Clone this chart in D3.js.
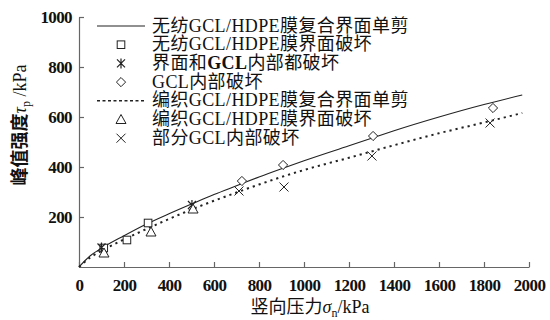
<!DOCTYPE html>
<html>
<head>
<meta charset="utf-8">
<script src="https://cdn.jsdelivr.net/npm/d3@7"></script>
<style>
  body { margin: 0; background: #fff; }
  text { font-family: "Liberation Serif", "Noto Sans CJK SC", serif; fill: #111; }
</style>
</head>
<body>
<div id="chart-area"></div>
<script>
// fitted curves
const curveX = [0, 50, 100, 200, 300, 400, 500, 600, 700, 800, 900, 1000, 1200, 1300, 1400, 1600, 1800, 1970]
const solidY = [0, 45, 75, 125, 172, 213, 252, 290, 325, 360, 393, 425, 485, 515, 545, 600, 650, 688]
const dottedY = [0, 38, 65, 110, 152, 192, 230, 265, 298, 330, 360, 388, 437, 462, 487, 535, 578, 616]

// test points
const squarePts = [[110, 76], [213, 108], [307, 176]]
const starPts = [[100, 78], [502, 248]]
const diamondPts = [[724, 344], [907, 408], [1307, 524], [1840, 636]]
const trianglePts = [[111, 56], [320, 140], [507, 232]]
const crossPts = [[711, 304], [911, 320], [1302, 444], [1827, 576]]

const xTicks = [0, 200, 400, 600, 800, 1000, 1200, 1400, 1600, 1800, 2000]
const yTicks = [200, 400, 600, 800, 1000]

const legendLabels = [
  "无纺GCL/HDPE膜复合界面单剪",
  "无纺GCL/HDPE膜界面破坏",
  "界面和GCL内部都破坏",
  "GCL内部破坏",
  "编织GCL/HDPE膜复合界面单剪",
  "编织GCL/HDPE膜界面破坏",
  "部分GCL内部破坏"
]
const legendKeys = ["solid", "square", "star", "diamond", "dotted", "triangle", "cross"]

const MARGIN = { LEFT: 79, RIGHT: 21, TOP: 17, BOTTOM: 53 }
const WIDTH = 550 - MARGIN.LEFT - MARGIN.RIGHT
const HEIGHT = 320 - MARGIN.TOP - MARGIN.BOTTOM
const INK = "#222"
const FONT = "'Liberation Serif', 'Noto Sans CJK SC', serif"

const svg = d3.select("#chart-area").append("svg")
  .attr("width", 550)
  .attr("height", 320)

const g = svg.append("g")
  .attr("transform", `translate(${MARGIN.LEFT}, ${MARGIN.TOP})`)

const x = d3.scaleLinear().domain([0, 2000]).range([0, WIDTH])
const y = d3.scaleLinear().domain([0, 1000]).range([HEIGHT, 0])

// axes, ticks pointing inward
const xAxis = g.append("g")
  .attr("transform", `translate(0, ${HEIGHT})`)
  .call(d3.axisBottom(x).tickValues(xTicks).tickFormat(d3.format("d"))
    .tickSizeInner(-5).tickSizeOuter(0).tickPadding(12))

const yAxis = g.append("g")
  .call(d3.axisLeft(y).tickValues(yTicks).tickFormat(d3.format("d"))
    .tickSizeInner(-5).tickSizeOuter(0).tickPadding(7))

;[xAxis, yAxis].forEach(a => {
  a.attr("font-family", FONT)
  a.selectAll("text")
    .attr("font-size", "17px")
    .attr("font-weight", "bold")
    .attr("letter-spacing", "-0.6px")
})

svg.selectAll(".domain, .tick line").attr("stroke", "#666").attr("stroke-width", 1.2)

// curves
const line = d3.line().curve(d3.curveMonotoneX)

g.append("path")
  .attr("d", line(curveX.map((d, i) => [x(d), y(solidY[i])])))
  .attr("fill", "none")
  .attr("stroke", INK)
  .attr("stroke-width", 1.1)

g.append("path")
  .attr("d", line(curveX.map((d, i) => [x(d), y(dottedY[i])])))
  .attr("fill", "none")
  .attr("stroke", INK)
  .attr("stroke-width", 2)
  .attr("stroke-dasharray", "2.2,4")

// marker shapes
function drawMarker(sel, type, cx, cy) {
  const m = sel.append("g").attr("transform", `translate(${cx}, ${cy})`)
    .attr("fill", "#fff").attr("stroke", INK).attr("stroke-width", 1)
  if (type === "square") {
    m.append("rect").attr("x", -3.8).attr("y", -3.8).attr("width", 7.6).attr("height", 7.6)
  } else if (type === "diamond") {
    m.append("path").attr("d", "M0,-4.6L4.6,0L0,4.6L-4.6,0Z")
  } else if (type === "triangle") {
    m.append("path").attr("d", "M0,-5L5,4L-5,4Z")
  } else if (type === "cross") {
    m.append("path").attr("d", "M-4.5,-4.5L4.5,4.5M-4.5,4.5L4.5,-4.5")
  } else if (type === "star") {
    m.append("path").attr("d", "M-4,-4L4,4M-4,4L4,-4M0,-5L0,5").attr("stroke-width", 1.2)
  } else if (type === "solid" || type === "dotted") {
    m.append("line").attr("x1", -24).attr("x2", 24)
      .attr("stroke-width", type === "solid" ? 1.1 : 1.6)
      .attr("stroke-dasharray", type === "solid" ? null : "3,2.5")
  }
}

const pointSets = [
  ["square", squarePts],
  ["star", starPts],
  ["diamond", diamondPts],
  ["triangle", trianglePts],
  ["cross", crossPts]
]
pointSets.forEach(([type, pts]) => {
  pts.forEach(p => drawMarker(g, type, x(p[0]), y(p[1])))
})

// legend
const legend = svg.append("g").attr("transform", "translate(121, 25)")
legendLabels.forEach((label, i) => {
  const row = legend.append("g").attr("transform", `translate(0, ${i * 18.7})`)
  drawMarker(row, legendKeys[i], 0, 1)
  const t = row.append("text")
    .attr("x", 31)
    .attr("y", 6.5)
    .attr("font-size", "18px")
    .attr("letter-spacing", "0.4px")
  if (i === 2) {
    t.append("tspan").text("界面和")
    t.append("tspan").attr("font-weight", "bold").text("GCL")
    t.append("tspan").text("内部都破坏")
  } else {
    t.text(label)
  }
})

// Y label
const yLabel = svg.append("text")
  .attr("transform", "translate(26, 125) rotate(-90)")
  .attr("text-anchor", "middle")
  .attr("font-size", "18px")
yLabel.append("tspan").attr("font-weight", "bold").text("峰值强度")
yLabel.append("tspan").attr("font-style", "italic").text("τ")
yLabel.append("tspan").attr("font-size", "12px").attr("dy", 4).text("p")
yLabel.append("tspan").attr("dy", -4).text(" /kPa")

// X label
const xLabel = svg.append("text")
  .attr("x", 310)
  .attr("y", 313)
  .attr("text-anchor", "middle")
  .attr("font-size", "18px")
xLabel.append("tspan").text("竖向压力")
xLabel.append("tspan").attr("font-style", "italic").text("σ")
xLabel.append("tspan").attr("font-size", "12px").attr("dy", 4).text("n")
xLabel.append("tspan").attr("dy", -4).text("/kPa")
</script>
</body>
</html>
